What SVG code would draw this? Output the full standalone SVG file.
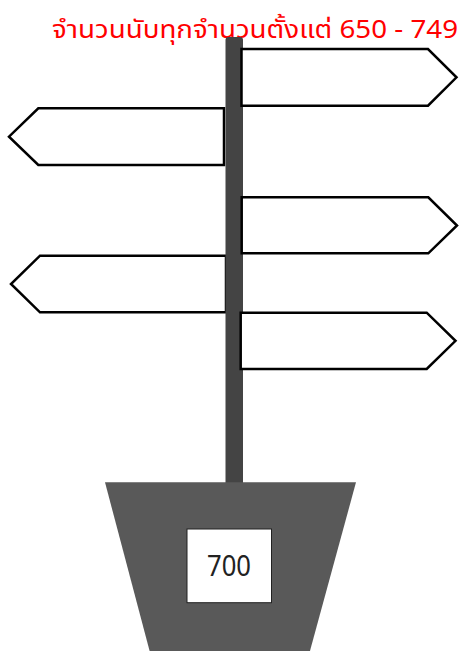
<svg xmlns="http://www.w3.org/2000/svg" width="462" height="651" viewBox="0 0 462 651">
<style>
.sign{fill:#fff;stroke:#000;stroke-width:2.5;stroke-linejoin:miter}
.title{font-family:"Noto Sans Thai","Leelawadee UI","Tahoma","Noto Sans","DejaVu Sans",sans-serif;font-size:25px;fill:#ff0000}
.num{font-family:"Noto Sans","Open Sans",sans-serif;font-size:29px;fill:#222}
</style>
<rect width="462" height="651" fill="#fff"/>
<g id="title"><text class="title" x="52" y="38" textLength="406" lengthAdjust="spacingAndGlyphs">จำนวนนับทุกจำนวนตั้งแต่ 650 - 749</text></g>
<g id="sign2"><polygon class="sign" points="224,108.3 38.3,108.3 9,136.7 38.3,165 224,165"/></g>
<g id="sign4"><polygon class="sign" points="226,255.7 40,255.7 11,284 40,312.3 226,312.3"/></g>
<g id="pole"><rect x="225.5" y="37" width="17.5" height="460" rx="3" fill="#444"/></g>
<g id="sign1"><polygon class="sign" points="241.5,49 428,49 456.5,77.3 428,105.7 241.5,105.7"/></g>
<g id="sign3"><polygon class="sign" points="241.7,197.3 428.3,197.3 457,225.5 428.3,253.3 241.7,253.3"/></g>
<g id="sign5"><polygon class="sign" points="240.7,312.7 426.7,312.7 455.5,340.8 426.7,369 240.7,369"/></g>
<g id="base"><polygon points="105,482.3 356,482.3 307.5,660 152,660" fill="#595959"/></g>
<g id="label"><rect x="187" y="529" width="84.5" height="73.7" fill="#fff" stroke="#222" stroke-width="1"/>
<text class="num" x="229" y="576" text-anchor="middle" textLength="44" lengthAdjust="spacingAndGlyphs">700</text></g>
</svg>
